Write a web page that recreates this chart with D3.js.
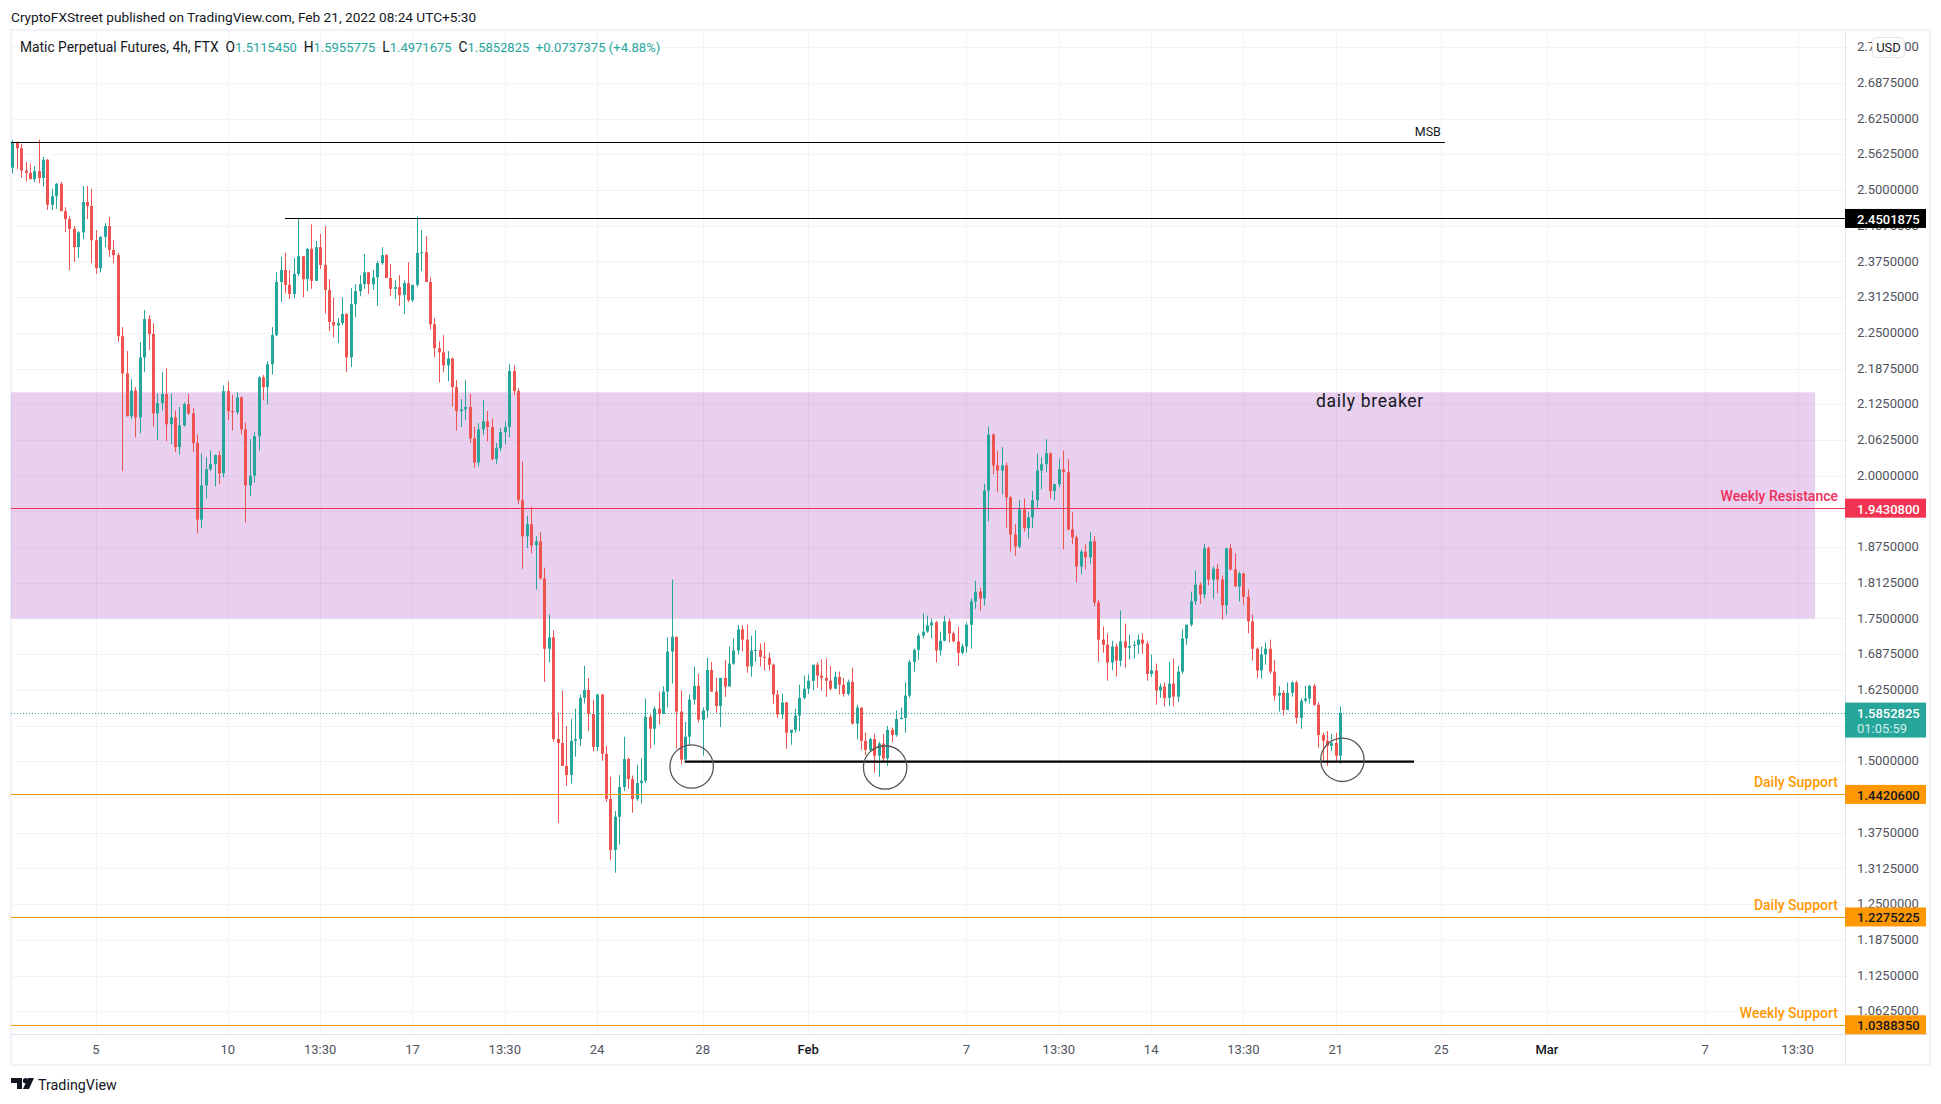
<!DOCTYPE html>
<html>
<head>
<meta charset="utf-8">
<script src="https://cdn.jsdelivr.net/npm/d3@7"></script>
<style>
html, body { margin: 0; padding: 0; background: #fff; }
svg { display: block; }
text { font-family: Roboto, sans-serif; }
.tick text { font-family: Roboto, sans-serif; }
</style>
</head>
<body>
<div id="chart"></div>
<script>
// 4h candles; each open is the previous close
const firstOpen = 2.539;
const closes = [
  2.584,2.573,2.534,2.530,2.519,2.533,2.521,2.553,2.474,2.489,
  2.511,2.463,2.449,2.432,2.400,2.426,2.479,2.472,2.412,2.363,
  2.418,2.437,2.395,2.386,2.244,2.179,2.104,2.149,2.102,2.207,
  2.274,2.248,2.109,2.127,2.143,2.090,2.102,2.050,2.088,2.125,
  2.109,2.057,1.923,1.983,2.011,2.020,2.036,2.004,2.148,2.113,
  2.111,2.137,2.081,1.983,2.000,2.069,2.172,2.155,2.195,2.246,
  2.339,2.360,2.334,2.318,2.353,2.384,2.344,2.397,2.341,2.400,
  2.369,2.325,2.269,2.263,2.267,2.283,2.207,2.300,2.323,2.335,
  2.356,2.335,2.347,2.372,2.386,2.346,2.327,2.330,2.316,2.337,
  2.307,2.334,2.390,2.391,2.339,2.265,2.223,2.216,2.193,2.205,
  2.155,2.113,2.116,2.120,2.065,2.023,2.081,2.095,2.085,2.029,
  2.048,2.076,2.085,2.183,2.148,1.957,1.894,1.915,1.878,1.885,
  1.820,1.697,1.717,1.539,1.532,1.492,1.476,1.536,1.539,1.611,
  1.625,1.583,1.525,1.617,1.513,1.434,1.345,1.403,1.455,1.504,
  1.469,1.434,1.462,1.466,1.578,1.557,1.592,1.583,1.622,1.692,
  1.718,1.587,1.503,1.543,1.608,1.632,1.573,1.589,1.660,1.622,
  1.597,1.646,1.631,1.671,1.694,1.731,1.713,1.666,1.694,1.695,
  1.683,1.681,1.669,1.617,1.582,1.603,1.550,1.555,1.580,1.611,
  1.627,1.641,1.669,1.650,1.646,1.641,1.627,1.648,1.634,1.618,
  1.639,1.566,1.594,1.536,1.520,1.539,1.510,1.531,1.505,1.555,
  1.546,1.574,1.576,1.615,1.674,1.695,1.720,1.727,1.738,1.743,
  1.694,1.711,1.745,1.724,1.710,1.690,1.701,1.739,1.780,1.797,
  1.785,1.974,2.072,2.018,2.009,2.018,1.962,1.897,1.876,1.941,
  1.908,1.927,1.957,2.009,2.020,2.039,1.973,1.985,2.011,2.006,
  1.906,1.892,1.841,1.867,1.857,1.885,1.778,1.713,1.704,1.673,
  1.701,1.676,1.710,1.699,1.702,1.704,1.713,1.706,1.653,1.659,
  1.624,1.631,1.611,1.636,1.613,1.657,1.715,1.739,1.780,1.809,
  1.792,1.873,1.818,1.837,1.818,1.773,1.873,1.836,1.806,1.829,
  1.788,1.745,1.697,1.659,1.687,1.697,1.657,1.615,1.620,1.590,
  1.620,1.638,1.576,1.606,1.610,1.632,1.599,1.546,1.536,1.527,
  1.532,1.510,1.585];
const highs = [
  2.588,2.585,2.581,2.549,2.546,2.542,2.588,2.558,2.554,2.502,
  2.512,2.514,2.470,2.454,2.437,2.428,2.507,2.507,2.502,2.430,
  2.419,2.442,2.453,2.412,2.390,2.260,2.218,2.169,2.155,2.234,
  2.290,2.281,2.267,2.144,2.181,2.188,2.143,2.114,2.120,2.128,
  2.143,2.118,2.072,2.039,2.032,2.044,2.037,2.043,2.158,2.165,
  2.141,2.146,2.139,2.093,2.064,2.076,2.174,2.176,2.200,2.260,
  2.356,2.383,2.390,2.360,2.381,2.451,2.384,2.398,2.440,2.411,
  2.423,2.437,2.344,2.312,2.276,2.312,2.284,2.328,2.335,2.351,
  2.388,2.356,2.360,2.376,2.400,2.388,2.370,2.342,2.351,2.342,
  2.374,2.334,2.454,2.430,2.419,2.347,2.276,2.235,2.246,2.218,
  2.207,2.167,2.134,2.167,2.143,2.086,2.092,2.132,2.113,2.100,
  2.057,2.083,2.095,2.195,2.193,2.153,2.025,1.930,1.946,1.894,
  1.901,1.839,1.757,1.729,1.585,1.624,1.562,1.574,1.592,1.617,
  1.667,1.646,1.608,1.618,1.617,1.527,1.473,1.413,1.476,1.543,
  1.506,1.475,1.494,1.505,1.610,1.582,1.596,1.622,1.631,1.717,
  1.818,1.718,1.624,1.569,1.617,1.666,1.653,1.594,1.681,1.674,
  1.646,1.646,1.678,1.701,1.715,1.739,1.738,1.739,1.720,1.729,
  1.706,1.708,1.690,1.671,1.625,1.618,1.604,1.555,1.592,1.634,
  1.650,1.652,1.669,1.673,1.678,1.680,1.667,1.657,1.657,1.646,
  1.643,1.664,1.599,1.594,1.550,1.541,1.548,1.534,1.548,1.562,
  1.559,1.589,1.594,1.638,1.678,1.697,1.724,1.759,1.755,1.750,
  1.746,1.727,1.755,1.750,1.727,1.736,1.706,1.743,1.785,1.816,
  1.804,1.986,2.086,2.074,2.043,2.050,2.023,1.964,1.915,1.957,
  1.960,1.936,1.973,2.039,2.032,2.064,2.041,1.986,2.030,2.044,
  2.029,1.936,1.895,1.871,1.880,1.901,1.894,1.783,1.736,1.724,
  1.711,1.706,1.764,1.741,1.722,1.711,1.722,1.724,1.710,1.687,
  1.671,1.636,1.638,1.674,1.680,1.667,1.731,1.739,1.797,1.834,
  1.813,1.881,1.876,1.841,1.846,1.825,1.873,1.880,1.864,1.832,
  1.830,1.801,1.757,1.699,1.701,1.708,1.713,1.678,1.632,1.624,
  1.638,1.640,1.641,1.610,1.632,1.634,1.636,1.603,1.550,1.553,
  1.548,1.550,1.596];
const lows = [
  2.529,2.537,2.521,2.515,2.519,2.514,2.512,2.506,2.465,2.465,
  2.467,2.463,2.426,2.360,2.374,2.381,2.414,2.449,2.372,2.353,
  2.356,2.400,2.383,2.372,2.234,2.008,2.104,2.099,2.067,2.074,
  2.181,2.220,2.086,2.062,2.114,2.060,2.055,2.041,2.037,2.086,
  2.106,2.041,1.899,1.908,1.960,2.008,1.981,1.985,1.997,2.097,
  2.079,2.107,2.072,1.918,1.964,1.988,2.044,2.132,2.125,2.177,
  2.244,2.304,2.319,2.309,2.311,2.349,2.312,2.323,2.327,2.341,
  2.362,2.284,2.253,2.242,2.232,2.263,2.181,2.190,2.277,2.314,
  2.327,2.318,2.325,2.297,2.369,2.346,2.314,2.309,2.297,2.283,
  2.304,2.304,2.330,2.358,2.339,2.256,2.207,2.163,2.181,2.165,
  2.121,2.079,2.085,2.097,2.057,2.014,2.016,2.071,2.060,2.027,
  2.020,2.043,2.055,2.067,2.141,1.950,1.837,1.873,1.864,1.801,
  1.818,1.639,1.673,1.534,1.392,1.492,1.457,1.461,1.508,1.527,
  1.601,1.553,1.517,1.518,1.501,1.429,1.327,1.305,1.354,1.448,
  1.452,1.410,1.431,1.426,1.462,1.522,1.529,1.564,1.583,1.594,
  1.636,1.522,1.494,1.503,1.527,1.599,1.568,1.510,1.576,1.622,
  1.585,1.560,1.613,1.631,1.669,1.687,1.692,1.655,1.648,1.674,
  1.666,1.659,1.659,1.601,1.576,1.574,1.522,1.529,1.550,1.553,
  1.608,1.618,1.624,1.629,1.624,1.613,1.624,1.627,1.617,1.613,
  1.615,1.564,1.538,1.520,1.511,1.518,1.480,1.473,1.499,1.492,
  1.534,1.543,1.573,1.550,1.611,1.657,1.678,1.715,1.725,1.715,
  1.673,1.685,1.710,1.708,1.708,1.667,1.687,1.690,1.697,1.767,
  1.764,1.773,1.920,2.002,1.971,1.967,1.909,1.867,1.860,1.873,
  1.902,1.890,1.908,1.944,1.976,2.006,1.960,1.957,1.980,1.871,
  1.904,1.880,1.813,1.827,1.836,1.846,1.771,1.674,1.690,1.641,
  1.660,1.648,1.666,1.664,1.678,1.680,1.688,1.688,1.641,1.648,
  1.599,1.611,1.596,1.597,1.596,1.604,1.653,1.704,1.736,1.774,
  1.776,1.785,1.808,1.785,1.794,1.748,1.757,1.834,1.806,1.780,
  1.774,1.724,1.676,1.646,1.645,1.669,1.653,1.606,1.587,1.580,
  1.590,1.613,1.566,1.557,1.603,1.601,1.597,1.524,1.501,1.492,
  1.518,1.499,1.496];

// axis ticks, x given in bars from the first candle
const priceTicks = [2.75,2.6875,2.625,2.5625,2.5,2.4375,2.375,2.3125,2.25,2.1875,2.125,2.0625,2,1.9375,1.875,1.8125,1.75,1.6875,1.625,1.5625,1.5,1.4375,1.375,1.3125,1.25,1.1875,1.125,1.0625];
const timeTickBars = [19,49,70,91,112,133,157,181,217,238,259,280,301,325,349,385,406];
const timeTickLabels = ['5','10','13:30','17','13:30','24','28','Feb','7','13:30','14','13:30','21','25','Mar','7','13:30'];

// drawings
const levelPrices = [1.94308, 1.44206, 1.2275225, 1.038835];
const levelNames = ['Weekly Resistance', 'Daily Support', 'Daily Support', 'Weekly Support'];
const msbPrice = 2.5833, msbEndBar = 325.8;
const topPrice = 2.4501875, topStartBar = 62;
const zonePrices = [2.1459, 1.7498], zoneEndBar = 410;
const floorPrice = 1.4995, floorBars = [152.9, 318.8];
const circleBars = [154.5, 198.5, 302.5];
const circlePrices = [1.4909, 1.4892, 1.5026];
const lastPrice = 1.5852825;
const legendLabels = ['Matic Perpetual Futures, 4h, FTX  O', '  H', '  L', '  C'];
const legendValues = ['1.5115450', '1.5955775', '1.4971675', '1.5852825'];
const legendChange = '  +0.0737375 (+4.88%)';

const W = 1941, H = 1104;
const plot = {left: 11, right: 1845, top: 30, bottom: 1034};
const UP = '#26a69a', DOWN = '#ef5350', TEXT = '#50535e', GRID = '#f0f3fa';

const candles = closes.map((c, i) => ({i, o: i ? closes[i - 1] : firstOpen, c, h: highs[i], l: lows[i]}));

const x = d3.scaleLinear().domain([-0.3, 416.8]).range([plot.left, plot.right]);
const y = d3.scaleLinear().domain([2.78006, 1.02267]).range([plot.top, plot.bottom]);
const crisp = v => Math.round(v) + 0.5;

const svg = d3.select('#chart').append('svg').attr('width', W).attr('height', H);

svg.append('rect').attr('x', 11).attr('y', 30).attr('width', 1919).attr('height', 1035)
    .attr('fill', '#fff').attr('stroke', GRID).attr('stroke-width', 2);

// grid
svg.append('g').selectAll('line').data(priceTicks).join('line')
    .attr('x1', plot.left).attr('x2', plot.right)
    .attr('y1', d => crisp(y(d))).attr('y2', d => crisp(y(d)))
    .attr('stroke', GRID).attr('stroke-width', 1);
svg.append('g').selectAll('line').data(timeTickBars).join('line')
    .attr('x1', d => crisp(x(d))).attr('x2', d => crisp(x(d)))
    .attr('y1', plot.top).attr('y2', plot.bottom)
    .attr('stroke', GRID).attr('stroke-width', 1);

// daily breaker zone
svg.append('rect')
    .attr('x', plot.left).attr('width', x(zoneEndBar) - plot.left)
    .attr('y', y(zonePrices[0])).attr('height', y(zonePrices[1]) - y(zonePrices[0]))
    .attr('fill', '#9c27b0').attr('opacity', 0.22);

// last price line sits under the candles
svg.append('line').attr('x1', plot.left).attr('x2', plot.right)
    .attr('y1', crisp(y(lastPrice))).attr('y2', crisp(y(lastPrice)))
    .attr('stroke', UP).attr('stroke-width', 1).attr('stroke-dasharray', '1 2');

// candles
const bar = svg.append('g').selectAll('g').data(candles).join('g')
    .attr('fill', d => d.c >= d.o ? UP : DOWN)
    .attr('stroke', d => d.c >= d.o ? UP : DOWN);
bar.append('line')
    .attr('x1', d => crisp(x(d.i))).attr('x2', d => crisp(x(d.i)))
    .attr('y1', d => y(d.h)).attr('y2', d => y(d.l));
bar.append('rect')
    .attr('x', d => Math.round(x(d.i)) - 1).attr('width', 3)
    .attr('y', d => y(Math.max(d.o, d.c)))
    .attr('height', d => Math.max(1, Math.abs(y(d.o) - y(d.c))))
    .attr('stroke', 'none');

// drawings
svg.append('line').attr('x1', plot.left).attr('x2', x(msbEndBar))
    .attr('y1', crisp(y(msbPrice))).attr('y2', crisp(y(msbPrice))).attr('stroke', '#000');
svg.append('text').attr('x', x(msbEndBar) - 4).attr('y', y(msbPrice) - 6.5)
    .attr('text-anchor', 'end').attr('font-size', 12.5).attr('fill', '#131722').text('MSB');
svg.append('line').attr('x1', x(topStartBar)).attr('x2', plot.right)
    .attr('y1', crisp(y(topPrice))).attr('y2', crisp(y(topPrice))).attr('stroke', '#000');
svg.append('line').attr('x1', x(floorBars[0])).attr('x2', x(floorBars[1]))
    .attr('y1', y(floorPrice)).attr('y2', y(floorPrice)).attr('stroke', '#000').attr('stroke-width', 2.4);
svg.append('g').selectAll('circle').data(circleBars).join('circle')
    .attr('cx', d => x(d)).attr('cy', (d, i) => y(circlePrices[i])).attr('r', 21.7)
    .attr('fill', 'none').attr('stroke', '#555').attr('stroke-width', 1.3);
svg.append('text').attr('x', 1316).attr('y', 407).attr('font-size', 17.5)
    .attr('letter-spacing', 0.7).attr('fill', '#131722').text('daily breaker');

const levelColor = i => i === 0 ? '#ef2f5b' : '#ff9800';
svg.append('g').selectAll('line').data(levelPrices).join('line')
    .attr('x1', plot.left).attr('x2', plot.right)
    .attr('y1', d => crisp(y(d))).attr('y2', d => crisp(y(d)))
    .attr('stroke', (d, i) => levelColor(i));
svg.append('g').selectAll('text').data(levelNames).join('text')
    .attr('x', 1838).attr('y', (d, i) => y(levelPrices[i]) - 7)
    .attr('text-anchor', 'end').attr('font-size', 14).attr('font-weight', 500)
    .attr('fill', (d, i) => levelColor(i)).text(d => d);

// axes
svg.append('line').attr('x1', crisp(plot.right)).attr('x2', crisp(plot.right))
    .attr('y1', plot.top).attr('y2', 1065).attr('stroke', '#e0e3eb');
svg.append('line').attr('x1', plot.left).attr('x2', 1930)
    .attr('y1', crisp(plot.bottom)).attr('y2', crisp(plot.bottom)).attr('stroke', '#e0e3eb');

const yAxis = svg.append('g').attr('transform', `translate(${plot.right},-0.5)`)
    .call(d3.axisRight(y).tickValues(priceTicks).tickFormat(d3.format('.7f')).tickSize(0).tickPadding(12));
const xAxis = svg.append('g').attr('transform', `translate(-0.5,${plot.bottom})`)
    .call(d3.axisBottom(x).tickValues(timeTickBars).tickFormat((d, i) => timeTickLabels[i]).tickSize(0).tickPadding(11));
[yAxis, xAxis].forEach(a => {
    a.select('.domain').remove();
    a.selectAll('text').attr('font-size', 13).attr('font-family', 'Roboto, sans-serif').attr('fill', TEXT);
});
xAxis.selectAll('text').filter(d => d === 181 || d === 349).attr('font-weight', 500).attr('fill', '#131722');

// price labels on the scale
function priceBox(price, fill, color) {
    const cy = y(price);
    svg.append('rect').attr('x', plot.right).attr('y', cy - 9.5).attr('width', 81).attr('height', 19).attr('fill', fill);
    svg.append('text').attr('x', 1857).attr('y', cy + 5.5).attr('font-size', 13).attr('font-weight', 500).attr('fill', color)
        .text(d3.format('.7f')(price));
}
priceBox(topPrice, '#000', '#fff');
levelPrices.forEach((p, i) => priceBox(p, i === 0 ? '#f23352' : '#ff9800', i === 0 ? '#fff' : '#131722'));

svg.append('rect').attr('x', plot.right).attr('y', y(lastPrice) - 10).attr('width', 81).attr('height', 35).attr('fill', UP);
svg.append('text').attr('x', 1857).attr('y', y(lastPrice) + 5).attr('font-size', 13).attr('font-weight', 500).attr('fill', '#fff')
    .text(d3.format('.7f')(lastPrice));
svg.append('text').attr('x', 1857).attr('y', y(lastPrice) + 20.5).attr('font-size', 13).attr('fill', '#d4eeeb')
    .text('01:05:59');

// USD button
svg.append('rect').attr('x', 1872.5).attr('y', 37.5).attr('width', 32).attr('height', 20).attr('rx', 4)
    .attr('fill', '#fff').attr('stroke', '#e0e3eb');
svg.append('text').attr('x', 1888.5).attr('y', 52).attr('text-anchor', 'middle')
    .attr('font-size', 13).attr('fill', '#131722').text('USD');

// header texts
svg.append('text').attr('x', 11).attr('y', 22).attr('font-size', 13.65).attr('fill', '#131722')
    .text('CryptoFXStreet published on TradingView.com, Feb 21, 2022 08:24 UTC+5:30');
const legend = svg.append('text').attr('x', 20).attr('y', 52).attr('xml:space', 'preserve');
legendLabels.forEach((label, i) => {
    legend.append('tspan').attr('font-size', 13.8).attr('fill', '#131722').text(label);
    legend.append('tspan').attr('font-size', 13).attr('fill', UP).text(legendValues[i]);
});
legend.append('tspan').attr('font-size', 13.1).attr('fill', UP).text(legendChange);

// footer logo
const logo = svg.append('g').attr('transform', 'translate(11,1078)').attr('fill', '#131722');
logo.append('path').attr('d', 'M0 0H11V11H6V5H0Z');
logo.append('circle').attr('cx', 14.5).attr('cy', 2.7).attr('r', 2.6);
logo.append('path').attr('d', 'M17 0H23L18 11H12Z');
svg.append('text').attr('x', 38).attr('y', 1090).attr('font-size', 14.3).attr('fill', '#131722').text('TradingView');
</script>
</body>
</html>
